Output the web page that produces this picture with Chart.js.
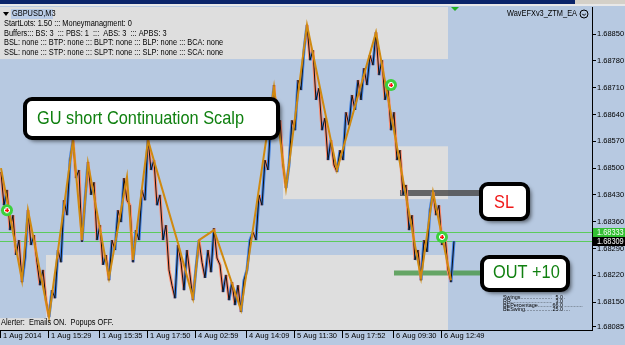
<!DOCTYPE html>
<html>
<head>
<meta charset="utf-8">
<script src="https://cdn.jsdelivr.net/npm/chart.js@4.4.1/dist/chart.umd.min.js"></script>
<style>
  html, body { margin: 0; padding: 0; background: #B7C9E1; overflow: hidden; }
</style>
</head>
<body>
<canvas id="chart" width="625" height="345"></canvas>
<script>
// GBPUSD M3 closes, one per bar (bar 0 = left edge)
const closes = [
  1.68490, 1.68403, 1.68443, 1.68338, 1.68377, 1.68273, 1.68312, 1.68202, 1.68265, 1.68390,
  1.68299, 1.68325, 1.68254, 1.68194, 1.68234, 1.68155, 1.68111, 1.68181, 1.68160, 1.68286,
  1.68254, 1.68416, 1.68377, 1.68521, 1.68573, 1.68474, 1.68495, 1.68307, 1.68416, 1.68516,
  1.68430, 1.68463, 1.68312, 1.68351, 1.68247, 1.68273, 1.68207, 1.68312, 1.68286, 1.68390,
  1.68359, 1.68474, 1.68416, 1.68403, 1.68254, 1.68338, 1.68312, 1.68443, 1.68416, 1.68578,
  1.68495, 1.68521, 1.68403, 1.68430, 1.68312, 1.68351, 1.68234, 1.68194, 1.68160, 1.68299,
  1.68254, 1.68181, 1.68286, 1.68221, 1.68155, 1.68239, 1.68312, 1.68254, 1.68213, 1.68286,
  1.68228, 1.68343, 1.68265, 1.68247, 1.68176, 1.68221, 1.68155, 1.68202, 1.68142, 1.68194,
  1.68124, 1.68207, 1.68234, 1.68312, 1.68333, 1.68312, 1.68430, 1.68403, 1.68521, 1.68495,
  1.68631, 1.68717, 1.68599, 1.68625, 1.68508, 1.68448, 1.68508, 1.68625, 1.68599, 1.68730,
  1.68704, 1.68808, 1.68874, 1.68782, 1.68808, 1.68678, 1.68709, 1.68599, 1.68631, 1.68521,
  1.68573, 1.68508, 1.68490, 1.68547, 1.68521, 1.68646, 1.68612, 1.68691, 1.68652, 1.68730,
  1.68678, 1.68761, 1.68717, 1.68795, 1.68769, 1.68855, 1.68743, 1.68782, 1.68678, 1.68709,
  1.68599, 1.68646, 1.68521, 1.68547, 1.68430, 1.68456, 1.68338, 1.68377, 1.68260, 1.68286,
  1.68207, 1.68312, 1.68281, 1.68390, 1.68437, 1.68377, 1.68403, 1.68299, 1.68325, 1.68234,
  1.68202, 1.68309
];

// zigzag swing points
const zzBars = [0, 7, 9, 16, 24, 27, 29, 36, 42, 44, 49, 59, 64, 66, 71, 80, 91, 95, 102, 112, 125, 140, 144, 150];
const zzPrices = [1.68500, 1.68207, 1.68390, 1.68111, 1.68573, 1.68312, 1.68513, 1.68213, 1.68477, 1.68260,
  1.68573, 1.68304, 1.68160, 1.68312, 1.68338, 1.68129, 1.68712, 1.68448, 1.68874, 1.68495,
  1.68855, 1.68213, 1.68437, 1.68207];

// entry signal circles
const signalBars = [2, 130, 147];
const signalPrices = [1.68390, 1.68717, 1.68320];

// grey rectangles (bar from, bar to, price high, price low)
const zoneFrom = [-1, 94, 15, -1];
const zoneTo = [149, 149, 149, 15];
const zoneHigh = [1.68925, 1.68557, 1.68273, 1.68108];
const zoneLow = [1.68785, 1.68419, 1.68070, 1.68070];

const askPrice = 1.68333;
const bidPrice = 1.68309;
const slPrice = 1.68435;
const outPrice = 1.68226;
const tradeFromBar = 133;
const tradeToBar = 160;

const yTicks = [1.68850, 1.68780, 1.68710, 1.68640, 1.68570, 1.68500, 1.68430, 1.68360, 1.68290, 1.68220, 1.68150, 1.68085];
const xTickBars = [0, 16, 33, 49, 65, 82, 98, 114, 131, 147];
const xTickLabels = ['1 Aug 2014', '1 Aug 15:29', '1 Aug 15:35', '1 Aug 17:50', '4 Aug 02:59',
  '4 Aug 14:09', '5 Aug 11:30', '5 Aug 17:52', '6 Aug 09:30', '6 Aug 12:49'];

const infoLines = [
  'StartLots: 1.50 ::: Moneymanagment: 0',
  'Buffers::: BS: 3  ::: PBS: 1  :::  ABS: 3  ::: APBS: 3',
  'BSL: none ::: BTP: none ::: BLPT: none ::: BLP: none ::: BCA: none',
  'SSL: none ::: STP: none ::: SLPT: none ::: SLP: none ::: SCA: none'
];
const statNames = ['Swings', 'RR', 'BEPercentage', 'BESwing'];
const statValues = ['5.0', '3.0', '66.0', '25.0'];

const uiFont = '"Liberation Sans", Arial, sans-serif';
const BG = '#B7C9E1';

// draws text squeezed sideways, to get the narrow terminal look
function narrowText(ctx, text, x, y, size, sx, color, align) {
  ctx.save();
  ctx.font = size + 'px ' + uiFont;
  ctx.fillStyle = color || '#000';
  ctx.textAlign = align || 'left';
  ctx.textBaseline = 'middle';
  ctx.translate(x, y);
  ctx.scale(sx, 1);
  ctx.fillText(text, 0, 0);
  ctx.restore();
}

//background, zones and level lines go under the price
const backPlugin = {
  id: 'backPlugin',
  beforeDraw(chart) {
    const ctx = chart.ctx;
    ctx.save();
    ctx.fillStyle = BG;
    ctx.fillRect(0, 0, chart.width, chart.height);
    ctx.restore();
  },
  beforeDatasetsDraw(chart) {
    const { ctx, chartArea, scales: { x, y } } = chart;
    ctx.save();
    ctx.beginPath();
    ctx.rect(chartArea.left, chartArea.top, chartArea.right - chartArea.left, chartArea.bottom - chartArea.top);
    ctx.clip();
    ctx.fillStyle = '#DEDEDE';
    zoneFrom.forEach((f, i) => {
      const x0 = x.getPixelForValue(f), x1 = x.getPixelForValue(zoneTo[i]);
      const y0 = y.getPixelForValue(zoneHigh[i]), y1 = y.getPixelForValue(zoneLow[i]);
      ctx.fillRect(x0, y0, x1 - x0, y1 - y0);
    });
    // ask / bid lines
    ctx.strokeStyle = '#5CCB5C';
    ctx.lineWidth = 1;
    [askPrice, bidPrice].forEach(p => {
      const py = Math.round(y.getPixelForValue(p)) + 0.5;
      ctx.beginPath();
      ctx.moveTo(chartArea.left, py);
      ctx.lineTo(chartArea.right, py);
      ctx.stroke();
    });
    // SL and target bars
    ctx.lineWidth = 6;
    ctx.strokeStyle = 'rgba(70,70,70,0.8)';
    let py = y.getPixelForValue(slPrice);
    ctx.beginPath();
    ctx.moveTo(x.getPixelForValue(tradeFromBar), py);
    ctx.lineTo(x.getPixelForValue(tradeToBar), py);
    ctx.stroke();
    ctx.lineWidth = 5;
    ctx.strokeStyle = 'rgba(70,150,70,0.8)';
    py = y.getPixelForValue(outPrice);
    ctx.beginPath();
    ctx.moveTo(x.getPixelForValue(tradeFromBar - 2), py);
    ctx.lineTo(x.getPixelForValue(tradeToBar), py);
    ctx.stroke();
    ctx.restore();
  }
};

function callout(ctx, bx, by, bw, bh, text, color, tx, ty) {
  ctx.save();
  ctx.shadowColor = 'rgba(0,0,0,0.6)';
  ctx.shadowBlur = 4;
  ctx.shadowOffsetX = 3;
  ctx.shadowOffsetY = 3;
  ctx.beginPath();
  ctx.roundRect(bx, by, bw, bh, 7);
  ctx.fillStyle = '#FFFFFF';
  ctx.fill();
  ctx.shadowColor = 'transparent';
  ctx.lineWidth = 4;
  ctx.strokeStyle = '#000';
  ctx.stroke();
  ctx.restore();
  narrowText(ctx, text, tx, ty, 19, 0.86, color);
}

//everything drawn on top of the price: signals, notes, texts, price tags
const frontPlugin = {
  id: 'frontPlugin',
  afterDatasetsDraw(chart) {
    const { ctx, scales: { x, y } } = chart;
    signalBars.forEach((b, i) => {
      const px = x.getPixelForValue(b), py = y.getPixelForValue(signalPrices[i]);
      ctx.save();
      ctx.fillStyle = '#3CD03C';
      ctx.beginPath();
      ctx.arc(px, py, 6, 0, Math.PI * 2);
      ctx.fill();
      ctx.fillStyle = '#FFFFFF';
      ctx.fillRect(px - 3, py - 1.5, 6, 3);
      ctx.fillRect(px - 1.5, py - 3, 3, 6);
      ctx.fillStyle = '#FF1010';
      ctx.fillRect(px - 2, py - 0.5, 4, 1.5);
      ctx.fillRect(px - 0.5, py - 2, 1.5, 4);
      ctx.restore();
    });
    callout(ctx, 25, 99, 253, 39, 'GU short Continuation Scalp', '#108010', 37, 119);
    callout(ctx, 481, 184, 47, 35, 'SL', '#F01818', 494, 203);
    callout(ctx, 482, 257, 86, 33, 'OUT +10', '#108010', 493, 273);
  },
  afterDraw(chart) {
    const { ctx, chartArea, scales: { y } } = chart;
    ctx.save();
    // terminal title strip
    ctx.fillStyle = '#0A246A';
    ctx.fillRect(0, 0, chart.width, 4);
    ctx.fillStyle = '#E8E8E8';
    ctx.fillRect(0, 4, chart.width, 2);
    ctx.fillStyle = '#D4D0C8';
    ctx.fillRect(575, 0, 50, 4);
    // chart shift marker
    ctx.fillStyle = '#22B022';
    ctx.beginPath();
    ctx.moveTo(451, 7);
    ctx.lineTo(459, 7);
    ctx.lineTo(455, 11);
    ctx.closePath();
    ctx.fill();

    // symbol line
    ctx.fillStyle = '#000';
    ctx.beginPath();
    ctx.moveTo(3, 12);
    ctx.lineTo(9, 12);
    ctx.lineTo(6, 16);
    ctx.closePath();
    ctx.fill();
    ctx.fillStyle = '#B9CBE6';
    ctx.fillRect(11, 9, 42, 10);
    narrowText(ctx, 'GBPUSD,M3', 12, 14, 8.5, 0.87);
    infoLines.forEach((t, i) => narrowText(ctx, t, 4, 24 + i * 9.5, 8.5, 0.87));
    narrowText(ctx, 'WavEFXv3_ZTM_EA', 577, 14, 8.5, 0.87, '#000', 'right');
    // expert smiley
    ctx.strokeStyle = '#000';
    ctx.lineWidth = 1;
    ctx.beginPath();
    ctx.arc(584, 14, 4, 0, Math.PI * 2);
    ctx.stroke();
    ctx.beginPath();
    ctx.arc(584, 13, 2, Math.PI * 0.15, Math.PI * 0.85);
    ctx.stroke();

    narrowText(ctx, 'Alerter:  Emails ON.  Popups OFF.', 1, 323, 8.5, 0.87);

    // stats block
    statNames.forEach((n, i) => {
      const ly = 297 + i * 4;
      narrowText(ctx, n + '..............................', 503, ly, 6, 0.9);
      ctx.fillStyle = BG;
      ctx.fillRect(552, ly - 2, 12, 4);
      narrowText(ctx, statValues[i], 563, ly, 6, 0.9, '#000', 'right');
    });

    // price tags on the axis
    [[askPrice, '#33C033'], [bidPrice, '#000000']].forEach(([p, c]) => {
      const py = Math.round(y.getPixelForValue(p));
      ctx.fillStyle = c;
      ctx.fillRect(chartArea.right + 1, py - 4, 32, 9);
      narrowText(ctx, p.toFixed(5), chartArea.right + 5, py + 0.5, 8.5, 0.87, '#FFFFFF');
    });
    ctx.restore();
  }
};

const ctx = document.getElementById('chart').getContext('2d');
new Chart(ctx, {
  type: 'line',
  data: {
    datasets: [
      {
        label: 'signals',
        data: signalBars.map((b, i) => ({ x: b, y: signalPrices[i] })),
        showLine: false,
        pointRadius: 0,
        order: 1
      },
      {
        label: 'zigzag',
        data: zzBars.map((b, i) => ({ x: b, y: zzPrices[i] })),
        borderColor: '#D08A10',
        borderWidth: 2,
        pointRadius: 0,
        tension: 0,
        order: 2
      },
      {
        label: 'close',
        data: closes.map((c, i) => ({ x: i, y: c })),
        borderColor: '#111111',
        borderWidth: 1,
        pointRadius: 0,
        tension: 0,
        order: 3
      },
      {
        label: 'close colour',
        data: closes.map((c, i) => ({ x: i, y: c })),
        borderWidth: 3,
        pointRadius: 0,
        tension: 0,
        segment: {
          borderColor: c => c.p1.parsed.y >= c.p0.parsed.y ? '#3F7FE0' : '#FF8A6A'
        },
        order: 4
      }
    ]
  },
  options: {
    responsive: false,
    animation: false,
    events: [],
    layout: { padding: { top: 7, left: 0, right: 0, bottom: 0 } },
    plugins: { legend: { display: false }, tooltip: { enabled: false } },
    scales: {
      x: {
        type: 'linear',
        min: -0.33,
        max: 197,
        grid: { drawOnChartArea: false, tickLength: 8, color: '#000' },
        border: { color: '#000' },
        ticks: {
          autoSkip: false,
          maxRotation: 0,
          align: 'start',
          padding: -7,
          color: '#000',
          font: { family: uiFont, size: 7.5 },
          callback: v => ' ' + xTickLabels[xTickBars.indexOf(v)]
        },
        afterBuildTicks: s => { s.ticks = xTickBars.map(v => ({ value: v })); },
        afterFit: s => { s.height = 15; s.paddingLeft = 0; s.paddingRight = 0; }
      },
      y: {
        type: 'linear',
        position: 'right',
        min: 1.68077,
        max: 1.68921,
        grid: { drawOnChartArea: false, tickLength: 4, color: '#000' },
        border: { color: '#000' },
        ticks: {
          padding: 1,
          color: '#000',
          font: { family: uiFont, size: 7.5 },
          callback: v => v.toFixed(5)
        },
        afterBuildTicks: s => { s.ticks = yTicks.map(v => ({ value: v })); },
        afterFit: s => { s.width = 33; s.paddingTop = 0; s.paddingBottom = 0; }
      }
    }
  },
  plugins: [backPlugin, frontPlugin]
});
</script>
</body>
</html>
